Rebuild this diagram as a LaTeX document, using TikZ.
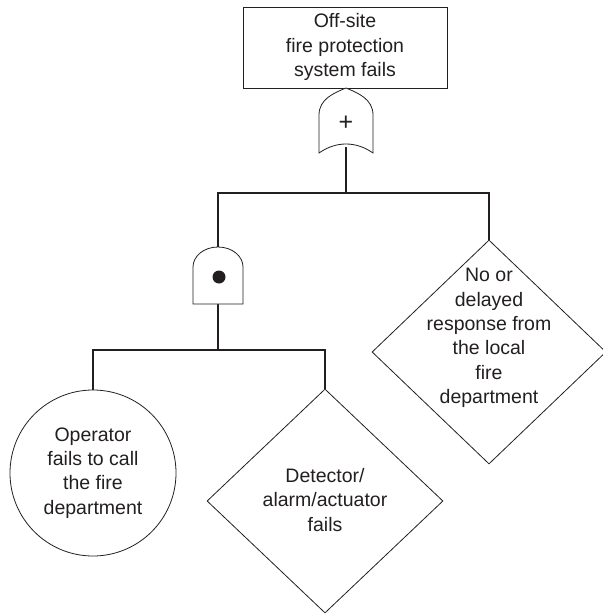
\documentclass[tikz,border=0pt]{standalone}
\usepackage{fontspec}
\setmainfont{Liberation Sans}
\usetikzlibrary{shapes.geometric}
\definecolor{ink}{RGB}{35,31,32}
\tikzset{
  outline/.style={draw=ink, line width=0.8pt},
  wire/.style={draw=ink, line width=1.8pt},
  txt/.style={align=center, font=\fontsize{19.5}{24.3}\selectfont, text=ink, inner sep=0pt},
  event/.style={outline, diamond, inner sep=0pt},
}
\begin{document}
\begin{tikzpicture}[x=1pt,y=-1pt]
\useasboundingbox (0,0) rectangle (602,615);

% connection points of the two gates and the branch bars
\coordinate (ortop) at (346,88);
\coordinate (orout) at (346,147);
\coordinate (barM) at (346,193);
\coordinate (barL) at (218,193);
\coordinate (barR) at (489,193);
\coordinate (andtop) at (218,247);
\coordinate (andout) at (218,304);
\coordinate (bar2M) at (218,350);
\coordinate (bar2L) at (93,350);
\coordinate (bar2R) at (325,350);

% top event
\node[outline, rectangle, minimum width=204pt, minimum height=81pt, inner sep=0pt] (top) at (345,47.5) {};
\node[txt] (toptext) at (345,47) {Off-site\\fire protection\\system fails};

% basic and undeveloped events
\node[outline, circle, minimum size=166pt, txt] (operator) at (93,473) {Operator\\fails to call\\the fire\\department};
\node[event, minimum width=236pt, minimum height=224pt] (detector) at (325,501) {};
\node[txt] (detectortext) at (325,500) {Detector/\\alarm/actuator\\fails};
\node[event, minimum width=234pt, minimum height=224pt] (response) at (489,352) {};
\node[txt] (responsetext) at (489,338) {No or\\delayed\\response from\\the local\\fire\\department};

% connectors
\draw[wire] (orout) -- (barM);
\draw[wire] (andtop) -- (barL) -- (barR) -- (response.north);
\draw[wire] (andout) -- (bar2M);
\draw[wire] (operator.north) -- (bar2L) -- (bar2R) -- (detector.north);

% OR gate
\draw[outline, fill=white] (319,153) -- (319,115)
  .. controls (319,99) and (334,93) .. (ortop)
  .. controls (358,93) and (373,99) .. (373,115) -- (373,153)
  .. controls (356,141) and (336,141) .. (319,153) -- cycle;
\node[txt, font=\fontsize{25}{25}\selectfont] (orsym) at (346,123) {+};

% AND gate
\draw[outline, fill=white] (193,304) -- (193,267)
  .. controls (193,256) and (204,247) .. (andtop)
  .. controls (232,247) and (243,256) .. (243,267) -- (243,304) -- cycle;
\fill[ink] (219,277) circle[radius=6.5pt];
\end{tikzpicture}
\end{document}
